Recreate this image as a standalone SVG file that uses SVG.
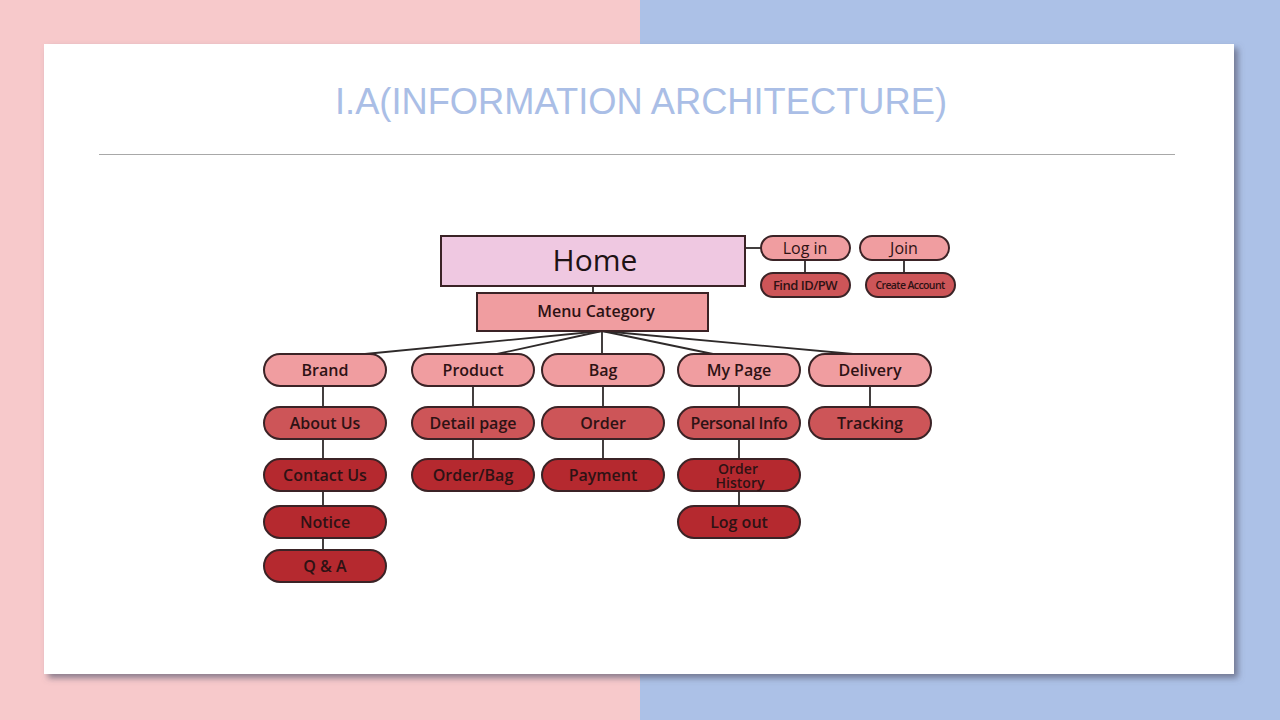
<svg xmlns="http://www.w3.org/2000/svg" width="1280" height="720" viewBox="0 0 1280 720">
  <defs>
    <filter id="cardShadow" x="-5%" y="-5%" width="110%" height="115%">
      <feGaussianBlur in="SourceAlpha" stdDeviation="3"/>
      <feOffset dx="4" dy="4" result="b"/>
      <feFlood flood-color="#5a5a70" flood-opacity="0.7"/>
      <feComposite in2="b" operator="in"/>
      <feMerge><feMergeNode/><feMergeNode in="SourceGraphic"/></feMerge>
    </filter>
    <style>
      .title { font-family: "Liberation Sans Narrow", "Liberation Sans", Arial, sans-serif; font-size: 37px; fill: #AABEE6; }
      .lbl { font-family: "Open Sans", "Liberation Sans", sans-serif; font-weight: 600; font-size: 16px; fill: #2e1214; text-anchor: middle; dominant-baseline: central; }
      .small { font-size: 13px; letter-spacing: -0.5px; }
      .tiny { font-size: 10.5px; letter-spacing: -0.6px; }
      .node { stroke: #3b2326; stroke-width: 2; }
      .l1 { fill: #F09DA0; }
      .l2 { fill: #CD5558; }
      .l3 { fill: #B5292F; }
      .link { stroke: #2e2a2a; stroke-width: 1.8; fill: none; }
    </style>
  </defs>

  <!-- split background -->
  <rect x="0" y="0" width="640" height="720" fill="#F7C9CB"/>
  <rect x="640" y="0" width="640" height="720" fill="#ACC1E7"/>

  <!-- white slide card -->
  <rect x="44" y="44" width="1190" height="630" fill="#FFFFFF" filter="url(#cardShadow)"/>

  <text class="title" x="641" y="114" text-anchor="middle" textLength="612" lengthAdjust="spacingAndGlyphs">I.A(INFORMATION ARCHITECTURE)</text>
  <line x1="99" y1="154.5" x2="1175" y2="154.5" stroke="#A8A8A8" stroke-width="1.2"/>

  <!-- connectors -->
  <g id="connectors">
    <line class="link" x1="745" y1="248" x2="761" y2="248"/>
    <line class="link" x1="805" y1="260" x2="805" y2="273"/>
    <line class="link" x1="904" y1="260" x2="904" y2="273"/>
    <line class="link" x1="593" y1="286" x2="593" y2="293"/>
    <line class="link" x1="602" y1="331" x2="365" y2="354"/>
    <line class="link" x1="602" y1="331" x2="497" y2="354"/>
    <line class="link" x1="602" y1="331" x2="602" y2="354"/>
    <line class="link" x1="602" y1="331" x2="713" y2="354"/>
    <line class="link" x1="602" y1="331" x2="853" y2="354"/>
    <!-- Brand column -->
    <line class="link" x1="323" y1="386" x2="323" y2="550"/>
    <!-- Product column -->
    <line class="link" x1="473" y1="386" x2="473" y2="459"/>
    <!-- Bag column -->
    <line class="link" x1="603" y1="386" x2="603" y2="459"/>
    <!-- My Page column -->
    <line class="link" x1="739" y1="386" x2="739" y2="506"/>
    <!-- Delivery column -->
    <line class="link" x1="870" y1="386" x2="870" y2="407"/>
  </g>

  <g id="home">
    <rect class="node" x="441" y="236" width="304" height="50" fill="#EFC8E1"/>
    <text class="lbl" x="595" y="259" style="font-weight:400;font-size:30px;fill:#1e1214">Home</text>
  </g>
  <g id="login">
    <rect class="node l1" x="761" y="236" width="89" height="24" rx="12"/>
    <text class="lbl" x="805" y="248" style="font-weight:500">Log in</text>
  </g>
  <g id="join">
    <rect class="node l1" x="860" y="236" width="89" height="24" rx="12"/>
    <text class="lbl" x="904" y="248" style="font-weight:500">Join</text>
  </g>
  <g id="find-id">
    <rect class="node l2" x="761" y="273" width="89" height="24" rx="12"/>
    <text class="lbl small" x="805" y="285">Find ID/PW</text>
  </g>
  <g id="create-account">
    <rect class="node l2" x="866" y="273" width="89" height="24" rx="12"/>
    <text class="lbl tiny" x="910" y="285">Create Account</text>
  </g>
  <g id="menu-category">
    <rect class="node l1" x="477" y="293" width="231" height="38"/>
    <text class="lbl" x="596" y="311">Menu Category</text>
  </g>

  <!-- first level -->
  <g id="brand"><rect class="node l1" x="264" y="354" width="122" height="32" rx="16"/><text class="lbl" x="325" y="370">Brand</text></g>
  <g id="product"><rect class="node l1" x="412" y="354" width="122" height="32" rx="16"/><text class="lbl" x="473" y="370">Product</text></g>
  <g id="bag"><rect class="node l1" x="542" y="354" width="122" height="32" rx="16"/><text class="lbl" x="603" y="370">Bag</text></g>
  <g id="my-page"><rect class="node l1" x="678" y="354" width="122" height="32" rx="16"/><text class="lbl" x="739" y="370">My Page</text></g>
  <g id="delivery"><rect class="node l1" x="809" y="354" width="122" height="32" rx="16"/><text class="lbl" x="870" y="370">Delivery</text></g>

  <!-- second level -->
  <g id="about-us"><rect class="node l2" x="264" y="407" width="122" height="32" rx="16"/><text class="lbl" x="325" y="423">About Us</text></g>
  <g id="detail-page"><rect class="node l2" x="412" y="407" width="122" height="32" rx="16"/><text class="lbl" x="473" y="423">Detail page</text></g>
  <g id="order"><rect class="node l2" x="542" y="407" width="122" height="32" rx="16"/><text class="lbl" x="603" y="423">Order</text></g>
  <g id="personal-info"><rect class="node l2" x="678" y="407" width="122" height="32" rx="16"/><text class="lbl" x="739" y="423" style="letter-spacing:-0.4px">Personal Info</text></g>
  <g id="tracking"><rect class="node l2" x="809" y="407" width="122" height="32" rx="16"/><text class="lbl" x="870" y="423">Tracking</text></g>

  <!-- third level -->
  <g id="contact-us"><rect class="node l3" x="264" y="459" width="122" height="32" rx="16"/><text class="lbl" x="325" y="475">Contact Us</text></g>
  <g id="order-bag"><rect class="node l3" x="412" y="459" width="122" height="32" rx="16"/><text class="lbl" x="473" y="475">Order/Bag</text></g>
  <g id="payment"><rect class="node l3" x="542" y="459" width="122" height="32" rx="16"/><text class="lbl" x="603" y="475">Payment</text></g>
  <g id="order-history"><rect class="node l3" x="678" y="459" width="122" height="32" rx="16"/><text class="lbl" style="font-size:14px"><tspan x="738" y="468">Order</tspan><tspan x="740" y="482">History</tspan></text></g>

  <!-- fourth level -->
  <g id="notice"><rect class="node l3" x="264" y="506" width="122" height="32" rx="16"/><text class="lbl" x="325" y="522">Notice</text></g>
  <g id="log-out"><rect class="node l3" x="678" y="506" width="122" height="32" rx="16"/><text class="lbl" x="739" y="522">Log out</text></g>

  <!-- fifth level -->
  <g id="qa"><rect class="node l3" x="264" y="550" width="122" height="32" rx="16"/><text class="lbl" x="325" y="566">Q &amp; A</text></g>
</svg>
